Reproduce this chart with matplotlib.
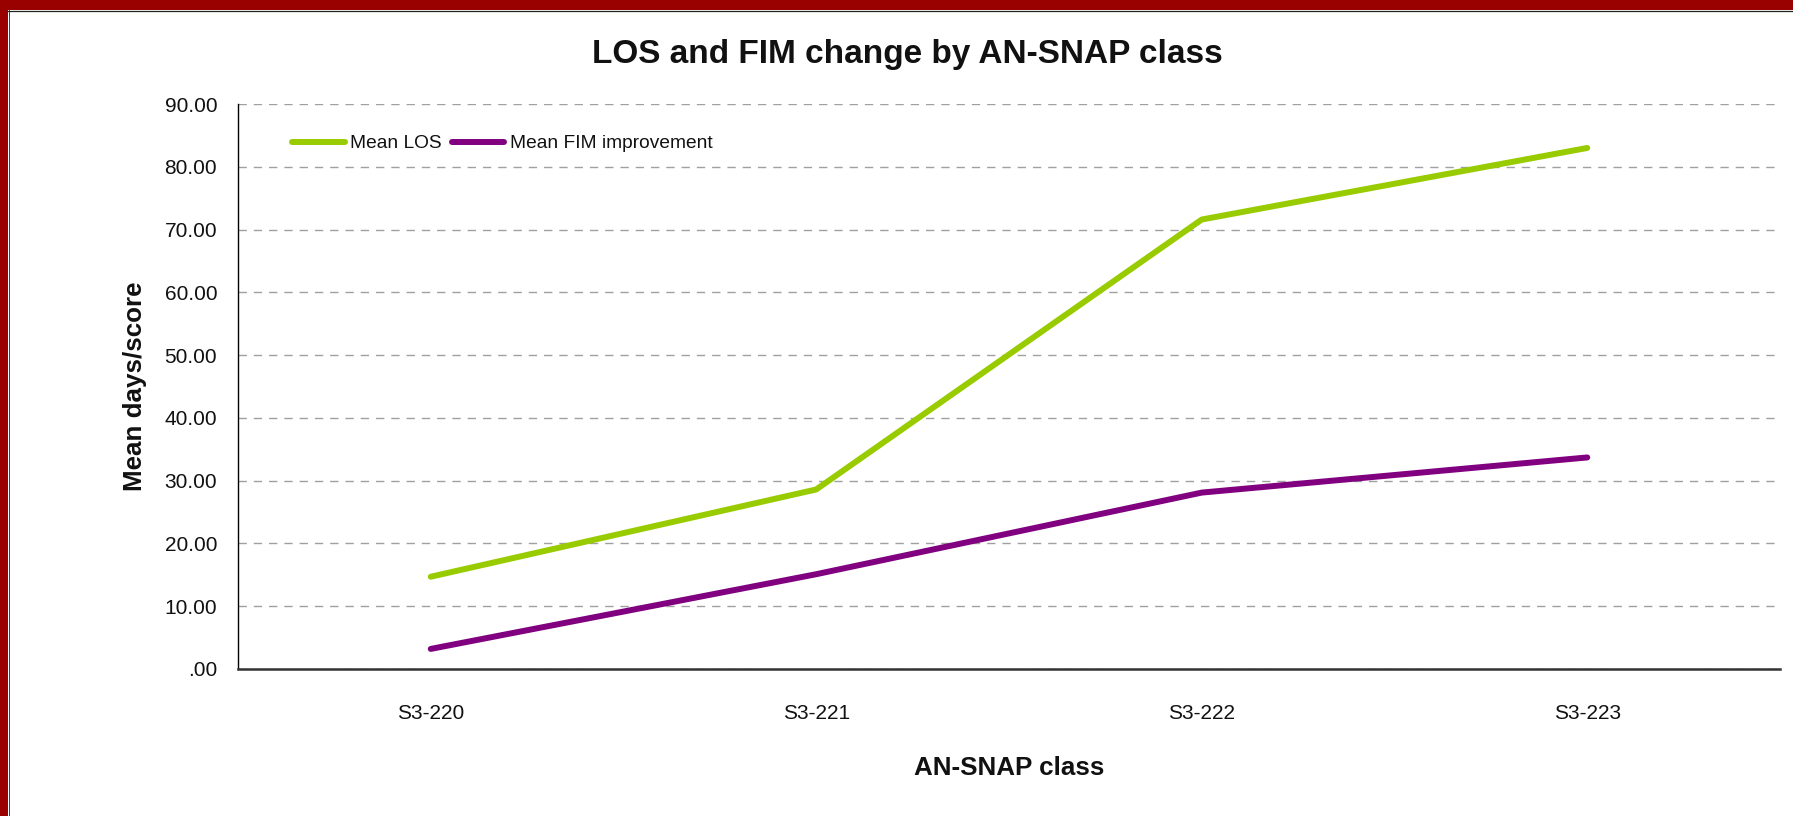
import matplotlib
matplotlib.use("Agg")
import matplotlib.pyplot as plt
from matplotlib import font_manager as fm
from matplotlib.patches import Rectangle
from matplotlib.ticker import FuncFormatter, MultipleLocator

# ---- data ----
categories = ["S3-220", "S3-221", "S3-222", "S3-223"]
mean_los = [14.7, 28.6, 71.6, 83.0]
mean_fim = [3.2, 15.1, 28.1, 33.7]
series_names = ["Mean LOS", "Mean FIM improvement"]
title = "LOS and FIM change by AN-SNAP class"
xlabel = "AN-SNAP class"
ylabel = "Mean days/score"

# ---- fonts ----
names = {f.name for f in fm.fontManager.ttflist}
if "Liberation Sans Narrow" in names:
    NARROW = "Liberation Sans Narrow"
    tick_fs, leg_fs, lab_fs = 16.5, 16.5, 22
else:
    NARROW = "Liberation Sans"
    tick_fs, leg_fs, lab_fs = 15, 13.8, 18.7
REG = "Liberation Sans"

GREEN = "#99CC00"
PURPLE = "#800080"

fig = plt.figure(figsize=(17.93, 8.16), dpi=100)
fig.patch.set_facecolor("white")
ax = fig.add_axes([238 / 1793, 1 - 669 / 816, (1780 - 238) / 1793, (669 - 104) / 816])

x = list(range(len(categories)))
ax.plot(x, mean_los, color=GREEN, lw=4.3, solid_capstyle="round", label=series_names[0], zorder=3)
ax.plot(x, mean_fim, color=PURPLE, lw=4.3, solid_capstyle="round", label=series_names[1], zorder=3)

ax.set_xlim(-0.5, len(categories) - 0.5)
ax.set_ylim(0, 90)
ax.yaxis.set_major_locator(MultipleLocator(10))
ax.yaxis.set_major_formatter(FuncFormatter(lambda v, p: ".00" if abs(v) < 1e-9 else f"{v:.2f}"))
ax.set_xticks(x)
ax.set_xticklabels(categories)

ax.grid(axis="y", color="#A0A0A0", lw=1.0, linestyle=(0, (6.0, 5.0)), zorder=1)
ax.grid(axis="x", visible=False)
ax.set_axisbelow(True)

for s in ("top", "right"):
    ax.spines[s].set_visible(False)
ax.spines["left"].set_color("black")
ax.spines["left"].set_linewidth(1.0)
ax.spines["bottom"].set_color("#333333")
ax.spines["bottom"].set_linewidth(1.8)

ax.tick_params(axis="y", length=0, pad=15, labelsize=tick_fs, colors="#111111")
ax.tick_params(axis="x", length=0, pad=25, labelsize=tick_fs, colors="#111111")
for lab in ax.get_xticklabels() + ax.get_yticklabels():
    lab.set_fontfamily(NARROW)

ax.set_ylabel(ylabel, fontfamily=NARROW, fontweight="bold", fontsize=lab_fs, color="#111111")
ax.yaxis.set_label_coords((135 - 238) / 1542, 0.5)
ax.yaxis.label.set_va("center")
ax.set_xlabel(xlabel, fontfamily=NARROW, fontweight="bold", fontsize=lab_fs, color="#111111")
ax.xaxis.set_label_coords(0.5, (669 - 768) / 565)
ax.xaxis.label.set_va("center")

fig.text(907 / 1793, 1 - 54 / 816, title, ha="center", va="center",
         fontfamily=REG, fontweight="bold", fontsize=24, color="#111111")

leg = ax.legend(loc="center left", bbox_to_anchor=((292 - 238) / 1542, (669 - 143.5) / 565),
                ncol=2, frameon=False, borderpad=0, borderaxespad=0,
                handlelength=2.75, handletextpad=0.3, columnspacing=0.5,
                prop={"family": NARROW, "size": leg_fs})
for t in leg.get_texts():
    t.set_color("#111111")

# ---- frame border ----
fig.patches.append(Rectangle((0, 1 - 10 / 816), 1, 10 / 816, transform=fig.transFigure,
                             facecolor="#990000", edgecolor="none", zorder=10))
fig.patches.append(Rectangle((0, 0), 8 / 1793, 1, transform=fig.transFigure,
                             facecolor="#990000", edgecolor="none", zorder=10))
fig.add_artist(plt.Line2D([8 / 1793, 1], [1 - 10.8 / 816] * 2, transform=fig.transFigure,
                          color="#222222", lw=0.9))
fig.add_artist(plt.Line2D([8.6 / 1793] * 2, [0, 1 - 10 / 816], transform=fig.transFigure,
                          color="#222222", lw=0.6))

fig.savefig("out.png", dpi=100, facecolor="white")
